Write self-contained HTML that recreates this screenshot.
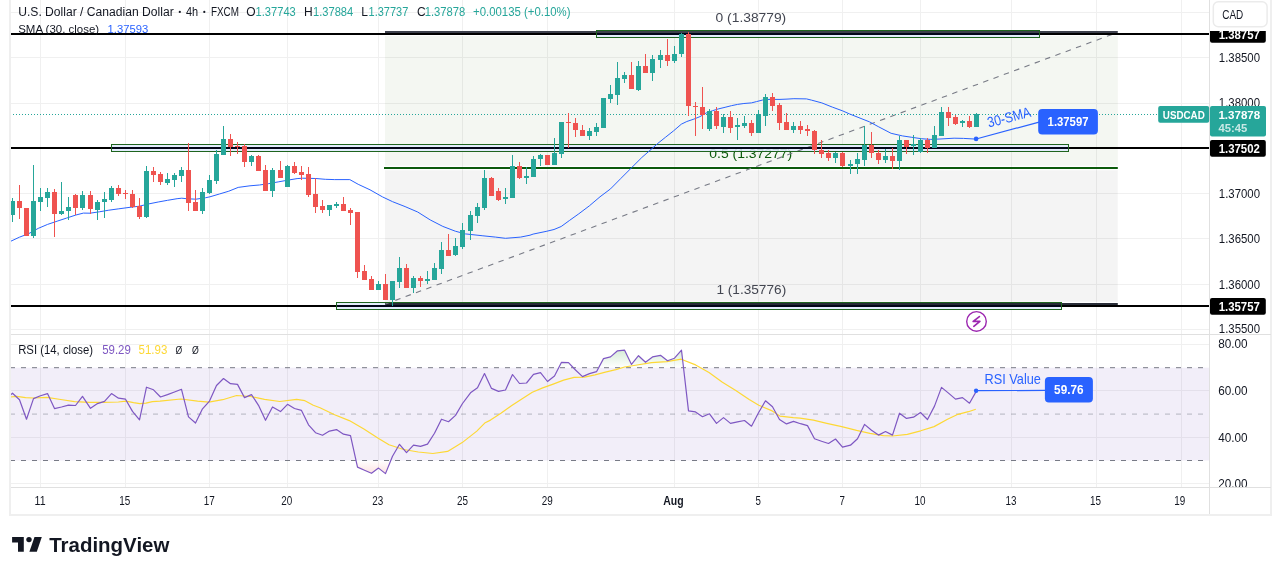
<!DOCTYPE html>
<html><head><meta charset="utf-8"><title>USDCAD chart</title>
<style>
html,body{margin:0;padding:0;background:#fff;}
body{width:1275px;height:574px;overflow:hidden;}
svg{display:block;font-family:"Liberation Sans", sans-serif;will-change:transform;}
</style></head><body>
<svg width="1275" height="574" viewBox="0 0 1275 574">
<rect x="0" y="0" width="1275" height="574" fill="#ffffff"/>
<rect x="40.0" y="0" width="1" height="487" fill="#f0f0f0"/>
<rect x="125.0" y="0" width="1" height="487" fill="#f0f0f0"/>
<rect x="209.0" y="0" width="1" height="487" fill="#f0f0f0"/>
<rect x="287.0" y="0" width="1" height="487" fill="#f0f0f0"/>
<rect x="378.0" y="0" width="1" height="487" fill="#f0f0f0"/>
<rect x="462.0" y="0" width="1" height="487" fill="#f0f0f0"/>
<rect x="547.0" y="0" width="1" height="487" fill="#f0f0f0"/>
<rect x="674.0" y="0" width="1" height="487" fill="#f0f0f0"/>
<rect x="758.0" y="0" width="1" height="487" fill="#f0f0f0"/>
<rect x="842.0" y="0" width="1" height="487" fill="#f0f0f0"/>
<rect x="920.0" y="0" width="1" height="487" fill="#f0f0f0"/>
<rect x="1011.0" y="0" width="1" height="487" fill="#f0f0f0"/>
<rect x="1096.0" y="0" width="1" height="487" fill="#f0f0f0"/>
<rect x="1181.0" y="0" width="1" height="487" fill="#f0f0f0"/>
<rect x="10" y="12" width="1199" height="1" fill="#f0f0f0"/>
<rect x="10" y="57" width="1199" height="1" fill="#f0f0f0"/>
<rect x="10" y="103" width="1199" height="1" fill="#f0f0f0"/>
<rect x="10" y="148" width="1199" height="1" fill="#f0f0f0"/>
<rect x="10" y="193" width="1199" height="1" fill="#f0f0f0"/>
<rect x="10" y="238" width="1199" height="1" fill="#f0f0f0"/>
<rect x="10" y="284" width="1199" height="1" fill="#f0f0f0"/>
<rect x="10" y="329" width="1199" height="1" fill="#f0f0f0"/>
<rect x="10" y="344.0" width="1199" height="1" fill="#f0f0f0"/>
<rect x="10" y="390.0" width="1199" height="1" fill="#f0f0f0"/>
<rect x="10" y="437.0" width="1199" height="1" fill="#f0f0f0"/>
<rect x="10" y="483.0" width="1199" height="1" fill="#f0f0f0"/>
<rect x="385" y="33" width="732.8" height="132.7" fill="#3c7828" fill-opacity="0.058"/>
<rect x="385" y="170.2" width="732.8" height="131.60000000000002" fill="#000000" fill-opacity="0.042"/>
<rect x="385" y="35" width="732.8" height="1" fill="#ffffff"/>
<rect x="385" y="31" width="732.8" height="2" fill="#3d404c"/>
<rect x="384" y="167" width="733.8" height="2" fill="#0b5a0b"/>
<rect x="385" y="303" width="732.8" height="2" fill="#2a2e39"/>
<text x="715.6" y="22.1" font-size="13.3" fill="#434651" font-weight="normal" text-anchor="start" textLength="70.6" lengthAdjust="spacingAndGlyphs" >0 (1.38779)</text>
<text x="709.3" y="157.7" font-size="13.3" fill="#0b5a0b" font-weight="normal" text-anchor="start" textLength="82.8" lengthAdjust="spacingAndGlyphs" >0.5 (1.37277)</text>
<text x="716.4" y="294" font-size="13.3" fill="#434651" font-weight="normal" text-anchor="start" textLength="69.8" lengthAdjust="spacingAndGlyphs" >1 (1.35776)</text>
<rect x="596" y="31" width="444" height="6" fill="#dfeafc" fill-opacity="0.88"/>
<rect x="111" y="145" width="958" height="6" fill="#dfeafc" fill-opacity="0.88"/>
<rect x="336" y="303" width="726" height="6" fill="#dfeafc" fill-opacity="0.88"/>
<rect x="596" y="31" width="444" height="2" fill="#3d404c"/>
<rect x="385" y="303" width="677" height="2" fill="#262a36"/>
<line x1="385" y1="304.2" x2="1117.8" y2="32.3" stroke="#787b86" stroke-width="1.1" stroke-dasharray="5.5,5.5"/>
<rect x="10" y="33" width="1199" height="2" fill="#000000"/>
<rect x="10" y="147" width="1199" height="2" fill="#000000"/>
<rect x="10" y="305" width="1199" height="2" fill="#000000"/>
<rect x="597" y="33" width="442" height="2" fill="#020619"/>
<rect x="112" y="147" width="956" height="2" fill="#020619"/>
<rect x="337" y="305" width="724" height="2" fill="#020619"/>
<rect x="596.5" y="30.5" width="443" height="7" fill="none" stroke="#1e641e" stroke-width="1"/>
<rect x="111.5" y="144.5" width="957" height="7" fill="none" stroke="#1e641e" stroke-width="1"/>
<rect x="336.5" y="302.5" width="725" height="7" fill="none" stroke="#1e641e" stroke-width="1"/>
<line x1="10" y1="114.5" x2="1158" y2="114.5" stroke="#26a69a" stroke-width="1" stroke-dasharray="1,2"/>
<polyline points="10.0,241.6 19.4,237.2 28.8,233.6 38.2,228.4 47.6,224.4 57.1,221.2 66.5,218.1 75.9,215.0 83.4,213.1 90.0,213.2 99.4,211.8 108.8,210.2 118.2,208.9 130.0,207.3 139.4,206.2 148.8,203.9 158.2,202.0 167.6,200.3 177.1,198.7 181.8,198.2 186.5,198.7 195.9,199.2 205.3,197.8 210.0,196.8 219.4,194.0 228.8,191.2 238.2,187.4 250.0,185.8 259.4,185.0 268.8,183.6 278.2,181.9 287.6,180.2 297.1,178.6 302.7,178.2 315.9,178.5 325.3,179.3 334.7,179.6 349.8,179.6 358.2,184.3 370.0,189.8 382.5,196.9 392.6,201.7 405.1,206.6 417.7,212.0 430.2,219.9 442.8,226.4 455.3,231.2 465.4,233.9 482.9,235.8 495.5,237.1 505.5,238.3 520.6,237.1 530.0,235.2 533.1,234.1 546.1,231.4 554.0,229.5 561.2,226.5 569.7,220.3 578.8,213.8 589.3,205.9 600.0,196.8 610.5,188.9 620.9,178.4 631.4,167.9 641.8,157.5 651.2,149.3 657.8,143.4 665.7,137.1 673.5,130.9 681.3,124.2 686.8,121.5 693.9,119.1 700.0,116.6 706.3,112.9 712.5,110.7 718.8,108.8 725.1,107.3 731.4,105.7 737.6,104.4 743.9,103.5 751.4,102.9 756.5,101.6 762.7,100.0 769.0,99.4 780.0,99.4 787.0,99.1 793.9,98.7 806.5,98.9 811.4,100.1 821.8,102.9 832.3,107.1 842.7,110.9 849.7,114.0 860.0,118.1 869.4,121.8 878.8,126.9 891.1,133.3 902.4,135.9 911.8,137.3 921.2,138.7 930.6,139.4 940.0,139.0 954.1,138.2 963.5,138.4 976.1,139.1" fill="none" stroke="#2962ff" stroke-width="1" stroke-linejoin="round"/>
<rect x="12" y="198" width="1" height="24" fill="#26a69a"/>
<rect x="10" y="201" width="5" height="14" fill="#26a69a"/>
<rect x="19" y="185" width="1" height="34" fill="#ef5350"/>
<rect x="17" y="201" width="5" height="7" fill="#ef5350"/>
<rect x="26" y="208" width="1" height="28" fill="#ef5350"/>
<rect x="24" y="208" width="5" height="28" fill="#ef5350"/>
<rect x="33" y="165" width="1" height="73" fill="#26a69a"/>
<rect x="31" y="201" width="5" height="35" fill="#26a69a"/>
<rect x="40" y="188" width="1" height="23" fill="#26a69a"/>
<rect x="38" y="197" width="5" height="5" fill="#26a69a"/>
<rect x="47" y="188" width="1" height="19" fill="#26a69a"/>
<rect x="45" y="192" width="5" height="6" fill="#26a69a"/>
<rect x="54" y="189" width="1" height="48" fill="#ef5350"/>
<rect x="52" y="192" width="5" height="22" fill="#ef5350"/>
<rect x="61" y="182" width="1" height="33" fill="#26a69a"/>
<rect x="59" y="211" width="5" height="3" fill="#26a69a"/>
<rect x="68" y="197" width="1" height="23" fill="#26a69a"/>
<rect x="66" y="207" width="5" height="4" fill="#26a69a"/>
<rect x="75" y="194" width="1" height="21" fill="#ef5350"/>
<rect x="73" y="195" width="5" height="13" fill="#ef5350"/>
<rect x="82" y="191" width="1" height="19" fill="#26a69a"/>
<rect x="80" y="195" width="5" height="13" fill="#26a69a"/>
<rect x="90" y="191" width="1" height="23" fill="#ef5350"/>
<rect x="88" y="195" width="5" height="14" fill="#ef5350"/>
<rect x="97" y="200" width="1" height="20" fill="#26a69a"/>
<rect x="95" y="202" width="5" height="8" fill="#26a69a"/>
<rect x="104" y="192" width="1" height="26" fill="#26a69a"/>
<rect x="102" y="199" width="5" height="3" fill="#26a69a"/>
<rect x="111" y="186" width="1" height="16" fill="#26a69a"/>
<rect x="109" y="188" width="5" height="12" fill="#26a69a"/>
<rect x="118" y="185" width="1" height="11" fill="#ef5350"/>
<rect x="116" y="188" width="5" height="6" fill="#ef5350"/>
<rect x="125" y="190" width="1" height="9" fill="#ef5350"/>
<rect x="123" y="193" width="5" height="1" fill="#ef5350"/>
<rect x="132" y="190" width="1" height="18" fill="#ef5350"/>
<rect x="130" y="194" width="5" height="13" fill="#ef5350"/>
<rect x="139" y="198" width="1" height="21" fill="#ef5350"/>
<rect x="137" y="206" width="5" height="11" fill="#ef5350"/>
<rect x="146" y="166" width="1" height="52" fill="#26a69a"/>
<rect x="144" y="171" width="5" height="46" fill="#26a69a"/>
<rect x="153" y="167" width="1" height="15" fill="#ef5350"/>
<rect x="151" y="171" width="5" height="4" fill="#ef5350"/>
<rect x="160" y="172" width="1" height="13" fill="#ef5350"/>
<rect x="158" y="174" width="5" height="8" fill="#ef5350"/>
<rect x="167" y="173" width="1" height="12" fill="#26a69a"/>
<rect x="165" y="179" width="5" height="4" fill="#26a69a"/>
<rect x="174" y="173" width="1" height="14" fill="#26a69a"/>
<rect x="172" y="175" width="5" height="5" fill="#26a69a"/>
<rect x="181" y="167" width="1" height="15" fill="#26a69a"/>
<rect x="179" y="170" width="5" height="6" fill="#26a69a"/>
<rect x="188" y="143" width="1" height="68" fill="#ef5350"/>
<rect x="186" y="170" width="5" height="33" fill="#ef5350"/>
<rect x="195" y="190" width="1" height="21" fill="#ef5350"/>
<rect x="193" y="202" width="5" height="9" fill="#ef5350"/>
<rect x="202" y="188" width="1" height="26" fill="#26a69a"/>
<rect x="200" y="192" width="5" height="19" fill="#26a69a"/>
<rect x="209" y="175" width="1" height="19" fill="#26a69a"/>
<rect x="207" y="180" width="5" height="13" fill="#26a69a"/>
<rect x="216" y="150" width="1" height="34" fill="#26a69a"/>
<rect x="214" y="154" width="5" height="27" fill="#26a69a"/>
<rect x="223" y="126" width="1" height="29" fill="#26a69a"/>
<rect x="221" y="139" width="5" height="16" fill="#26a69a"/>
<rect x="230" y="134" width="1" height="22" fill="#ef5350"/>
<rect x="228" y="139" width="5" height="8" fill="#ef5350"/>
<rect x="237" y="142" width="1" height="12" fill="#ef5350"/>
<rect x="235" y="146" width="5" height="1" fill="#ef5350"/>
<rect x="244" y="144" width="1" height="23" fill="#ef5350"/>
<rect x="242" y="146" width="5" height="16" fill="#ef5350"/>
<rect x="251" y="155" width="1" height="11" fill="#26a69a"/>
<rect x="249" y="156" width="5" height="6" fill="#26a69a"/>
<rect x="258" y="155" width="1" height="16" fill="#ef5350"/>
<rect x="256" y="156" width="5" height="15" fill="#ef5350"/>
<rect x="265" y="165" width="1" height="26" fill="#ef5350"/>
<rect x="263" y="170" width="5" height="21" fill="#ef5350"/>
<rect x="272" y="168" width="1" height="29" fill="#26a69a"/>
<rect x="270" y="170" width="5" height="21" fill="#26a69a"/>
<rect x="280" y="161" width="1" height="17" fill="#ef5350"/>
<rect x="278" y="170" width="5" height="8" fill="#ef5350"/>
<rect x="287" y="165" width="1" height="22" fill="#26a69a"/>
<rect x="285" y="166" width="5" height="21" fill="#26a69a"/>
<rect x="294" y="162" width="1" height="12" fill="#ef5350"/>
<rect x="292" y="166" width="5" height="7" fill="#ef5350"/>
<rect x="301" y="166" width="1" height="14" fill="#ef5350"/>
<rect x="299" y="172" width="5" height="3" fill="#ef5350"/>
<rect x="308" y="167" width="1" height="30" fill="#ef5350"/>
<rect x="306" y="174" width="5" height="21" fill="#ef5350"/>
<rect x="315" y="178" width="1" height="35" fill="#ef5350"/>
<rect x="313" y="194" width="5" height="13" fill="#ef5350"/>
<rect x="322" y="200" width="1" height="13" fill="#ef5350"/>
<rect x="320" y="206" width="5" height="4" fill="#ef5350"/>
<rect x="329" y="205" width="1" height="11" fill="#26a69a"/>
<rect x="327" y="205" width="5" height="5" fill="#26a69a"/>
<rect x="336" y="202" width="1" height="6" fill="#26a69a"/>
<rect x="334" y="204" width="5" height="2" fill="#26a69a"/>
<rect x="343" y="197" width="1" height="14" fill="#ef5350"/>
<rect x="341" y="204" width="5" height="7" fill="#ef5350"/>
<rect x="350" y="208" width="1" height="17" fill="#ef5350"/>
<rect x="348" y="210" width="5" height="3" fill="#ef5350"/>
<rect x="357" y="212" width="1" height="66" fill="#ef5350"/>
<rect x="355" y="212" width="5" height="60" fill="#ef5350"/>
<rect x="364" y="265" width="1" height="15" fill="#ef5350"/>
<rect x="362" y="271" width="5" height="9" fill="#ef5350"/>
<rect x="371" y="276" width="1" height="14" fill="#ef5350"/>
<rect x="369" y="279" width="5" height="11" fill="#ef5350"/>
<rect x="378" y="281" width="1" height="9" fill="#26a69a"/>
<rect x="376" y="284" width="5" height="6" fill="#26a69a"/>
<rect x="385" y="274" width="1" height="26" fill="#ef5350"/>
<rect x="383" y="284" width="5" height="16" fill="#ef5350"/>
<rect x="392" y="281" width="1" height="25" fill="#26a69a"/>
<rect x="390" y="281" width="5" height="19" fill="#26a69a"/>
<rect x="399" y="257" width="1" height="31" fill="#26a69a"/>
<rect x="397" y="268" width="5" height="14" fill="#26a69a"/>
<rect x="406" y="264" width="1" height="24" fill="#ef5350"/>
<rect x="404" y="268" width="5" height="20" fill="#ef5350"/>
<rect x="413" y="276" width="1" height="17" fill="#26a69a"/>
<rect x="411" y="278" width="5" height="10" fill="#26a69a"/>
<rect x="420" y="276" width="1" height="11" fill="#ef5350"/>
<rect x="418" y="278" width="5" height="3" fill="#ef5350"/>
<rect x="427" y="271" width="1" height="13" fill="#26a69a"/>
<rect x="425" y="279" width="5" height="2" fill="#26a69a"/>
<rect x="434" y="263" width="1" height="17" fill="#26a69a"/>
<rect x="432" y="268" width="5" height="12" fill="#26a69a"/>
<rect x="441" y="242" width="1" height="32" fill="#26a69a"/>
<rect x="439" y="250" width="5" height="19" fill="#26a69a"/>
<rect x="448" y="234" width="1" height="22" fill="#ef5350"/>
<rect x="446" y="250" width="5" height="6" fill="#ef5350"/>
<rect x="455" y="238" width="1" height="18" fill="#26a69a"/>
<rect x="453" y="246" width="5" height="9" fill="#26a69a"/>
<rect x="462" y="223" width="1" height="26" fill="#26a69a"/>
<rect x="460" y="230" width="5" height="17" fill="#26a69a"/>
<rect x="470" y="211" width="1" height="29" fill="#26a69a"/>
<rect x="468" y="215" width="5" height="16" fill="#26a69a"/>
<rect x="477" y="203" width="1" height="20" fill="#26a69a"/>
<rect x="475" y="207" width="5" height="9" fill="#26a69a"/>
<rect x="484" y="170" width="1" height="40" fill="#26a69a"/>
<rect x="482" y="178" width="5" height="30" fill="#26a69a"/>
<rect x="491" y="177" width="1" height="19" fill="#ef5350"/>
<rect x="489" y="178" width="5" height="18" fill="#ef5350"/>
<rect x="498" y="188" width="1" height="13" fill="#ef5350"/>
<rect x="496" y="191" width="5" height="9" fill="#ef5350"/>
<rect x="505" y="188" width="1" height="16" fill="#26a69a"/>
<rect x="503" y="197" width="5" height="2" fill="#26a69a"/>
<rect x="512" y="155" width="1" height="43" fill="#26a69a"/>
<rect x="510" y="166" width="5" height="32" fill="#26a69a"/>
<rect x="519" y="162" width="1" height="17" fill="#ef5350"/>
<rect x="517" y="166" width="5" height="12" fill="#ef5350"/>
<rect x="526" y="167" width="1" height="17" fill="#26a69a"/>
<rect x="524" y="176" width="5" height="2" fill="#26a69a"/>
<rect x="533" y="156" width="1" height="21" fill="#26a69a"/>
<rect x="531" y="159" width="5" height="18" fill="#26a69a"/>
<rect x="540" y="154" width="1" height="12" fill="#26a69a"/>
<rect x="538" y="155" width="5" height="4" fill="#26a69a"/>
<rect x="547" y="155" width="1" height="10" fill="#ef5350"/>
<rect x="545" y="155" width="5" height="10" fill="#ef5350"/>
<rect x="554" y="138" width="1" height="27" fill="#26a69a"/>
<rect x="552" y="153" width="5" height="12" fill="#26a69a"/>
<rect x="561" y="122" width="1" height="36" fill="#26a69a"/>
<rect x="559" y="122" width="5" height="32" fill="#26a69a"/>
<rect x="568" y="113" width="1" height="35" fill="#ef5350"/>
<rect x="566" y="122" width="5" height="1" fill="#ef5350"/>
<rect x="575" y="118" width="1" height="19" fill="#ef5350"/>
<rect x="573" y="123" width="5" height="7" fill="#ef5350"/>
<rect x="582" y="125" width="1" height="11" fill="#ef5350"/>
<rect x="580" y="130" width="5" height="6" fill="#ef5350"/>
<rect x="589" y="128" width="1" height="12" fill="#26a69a"/>
<rect x="587" y="131" width="5" height="5" fill="#26a69a"/>
<rect x="596" y="123" width="1" height="13" fill="#26a69a"/>
<rect x="594" y="127" width="5" height="5" fill="#26a69a"/>
<rect x="603" y="98" width="1" height="30" fill="#26a69a"/>
<rect x="601" y="98" width="5" height="30" fill="#26a69a"/>
<rect x="610" y="85" width="1" height="18" fill="#26a69a"/>
<rect x="608" y="94" width="5" height="5" fill="#26a69a"/>
<rect x="617" y="62" width="1" height="43" fill="#26a69a"/>
<rect x="615" y="78" width="5" height="17" fill="#26a69a"/>
<rect x="624" y="72" width="1" height="11" fill="#26a69a"/>
<rect x="622" y="75" width="5" height="4" fill="#26a69a"/>
<rect x="631" y="62" width="1" height="27" fill="#ef5350"/>
<rect x="629" y="75" width="5" height="14" fill="#ef5350"/>
<rect x="638" y="61" width="1" height="30" fill="#26a69a"/>
<rect x="636" y="66" width="5" height="24" fill="#26a69a"/>
<rect x="645" y="54" width="1" height="19" fill="#ef5350"/>
<rect x="643" y="66" width="5" height="7" fill="#ef5350"/>
<rect x="652" y="55" width="1" height="26" fill="#26a69a"/>
<rect x="650" y="59" width="5" height="14" fill="#26a69a"/>
<rect x="660" y="50" width="1" height="18" fill="#26a69a"/>
<rect x="658" y="55" width="5" height="5" fill="#26a69a"/>
<rect x="667" y="39" width="1" height="27" fill="#ef5350"/>
<rect x="665" y="55" width="5" height="6" fill="#ef5350"/>
<rect x="674" y="46" width="1" height="17" fill="#26a69a"/>
<rect x="672" y="54" width="5" height="7" fill="#26a69a"/>
<rect x="681" y="33" width="1" height="24" fill="#26a69a"/>
<rect x="679" y="34" width="5" height="20" fill="#26a69a"/>
<rect x="688" y="32" width="1" height="84" fill="#ef5350"/>
<rect x="686" y="34" width="5" height="72" fill="#ef5350"/>
<rect x="695" y="102" width="1" height="34" fill="#ef5350"/>
<rect x="693" y="106" width="5" height="1" fill="#ef5350"/>
<rect x="702" y="87" width="1" height="42" fill="#ef5350"/>
<rect x="700" y="107" width="5" height="8" fill="#ef5350"/>
<rect x="709" y="109" width="1" height="22" fill="#26a69a"/>
<rect x="707" y="111" width="5" height="18" fill="#26a69a"/>
<rect x="716" y="107" width="1" height="22" fill="#ef5350"/>
<rect x="714" y="111" width="5" height="15" fill="#ef5350"/>
<rect x="723" y="114" width="1" height="19" fill="#26a69a"/>
<rect x="721" y="117" width="5" height="10" fill="#26a69a"/>
<rect x="730" y="111" width="1" height="22" fill="#ef5350"/>
<rect x="728" y="117" width="5" height="11" fill="#ef5350"/>
<rect x="737" y="118" width="1" height="22" fill="#26a69a"/>
<rect x="735" y="125" width="5" height="2" fill="#26a69a"/>
<rect x="744" y="116" width="1" height="12" fill="#26a69a"/>
<rect x="742" y="123" width="5" height="3" fill="#26a69a"/>
<rect x="751" y="120" width="1" height="16" fill="#ef5350"/>
<rect x="749" y="123" width="5" height="10" fill="#ef5350"/>
<rect x="758" y="110" width="1" height="23" fill="#26a69a"/>
<rect x="756" y="114" width="5" height="19" fill="#26a69a"/>
<rect x="765" y="94" width="1" height="32" fill="#26a69a"/>
<rect x="763" y="97" width="5" height="19" fill="#26a69a"/>
<rect x="772" y="93" width="1" height="18" fill="#ef5350"/>
<rect x="770" y="97" width="5" height="9" fill="#ef5350"/>
<rect x="779" y="103" width="1" height="27" fill="#ef5350"/>
<rect x="777" y="105" width="5" height="18" fill="#ef5350"/>
<rect x="786" y="113" width="1" height="17" fill="#ef5350"/>
<rect x="784" y="122" width="5" height="8" fill="#ef5350"/>
<rect x="793" y="122" width="1" height="11" fill="#26a69a"/>
<rect x="791" y="126" width="5" height="4" fill="#26a69a"/>
<rect x="800" y="121" width="1" height="13" fill="#ef5350"/>
<rect x="798" y="126" width="5" height="4" fill="#ef5350"/>
<rect x="807" y="125" width="1" height="11" fill="#ef5350"/>
<rect x="805" y="129" width="5" height="2" fill="#ef5350"/>
<rect x="814" y="130" width="1" height="24" fill="#ef5350"/>
<rect x="812" y="131" width="5" height="19" fill="#ef5350"/>
<rect x="821" y="140" width="1" height="18" fill="#ef5350"/>
<rect x="819" y="150" width="5" height="4" fill="#ef5350"/>
<rect x="828" y="150" width="1" height="11" fill="#ef5350"/>
<rect x="826" y="153" width="5" height="5" fill="#ef5350"/>
<rect x="835" y="152" width="1" height="11" fill="#26a69a"/>
<rect x="833" y="153" width="5" height="5" fill="#26a69a"/>
<rect x="842" y="152" width="1" height="15" fill="#ef5350"/>
<rect x="840" y="153" width="5" height="13" fill="#ef5350"/>
<rect x="850" y="160" width="1" height="14" fill="#26a69a"/>
<rect x="848" y="164" width="5" height="2" fill="#26a69a"/>
<rect x="857" y="153" width="1" height="21" fill="#26a69a"/>
<rect x="855" y="159" width="5" height="5" fill="#26a69a"/>
<rect x="864" y="126" width="1" height="40" fill="#26a69a"/>
<rect x="862" y="145" width="5" height="15" fill="#26a69a"/>
<rect x="871" y="132" width="1" height="26" fill="#ef5350"/>
<rect x="869" y="145" width="5" height="8" fill="#ef5350"/>
<rect x="878" y="150" width="1" height="14" fill="#ef5350"/>
<rect x="876" y="153" width="5" height="7" fill="#ef5350"/>
<rect x="885" y="149" width="1" height="14" fill="#26a69a"/>
<rect x="883" y="156" width="5" height="4" fill="#26a69a"/>
<rect x="892" y="148" width="1" height="21" fill="#ef5350"/>
<rect x="890" y="156" width="5" height="5" fill="#ef5350"/>
<rect x="899" y="136" width="1" height="34" fill="#26a69a"/>
<rect x="897" y="140" width="5" height="21" fill="#26a69a"/>
<rect x="906" y="140" width="1" height="14" fill="#ef5350"/>
<rect x="904" y="140" width="5" height="7" fill="#ef5350"/>
<rect x="913" y="135" width="1" height="20" fill="#26a69a"/>
<rect x="911" y="144" width="5" height="2" fill="#26a69a"/>
<rect x="920" y="138" width="1" height="15" fill="#26a69a"/>
<rect x="918" y="140" width="5" height="12" fill="#26a69a"/>
<rect x="927" y="138" width="1" height="15" fill="#ef5350"/>
<rect x="925" y="140" width="5" height="8" fill="#ef5350"/>
<rect x="934" y="126" width="1" height="22" fill="#26a69a"/>
<rect x="932" y="135" width="5" height="13" fill="#26a69a"/>
<rect x="941" y="107" width="1" height="29" fill="#26a69a"/>
<rect x="939" y="112" width="5" height="24" fill="#26a69a"/>
<rect x="948" y="107" width="1" height="19" fill="#ef5350"/>
<rect x="946" y="112" width="5" height="6" fill="#ef5350"/>
<rect x="955" y="115" width="1" height="10" fill="#ef5350"/>
<rect x="953" y="117" width="5" height="7" fill="#ef5350"/>
<rect x="962" y="120" width="1" height="7" fill="#26a69a"/>
<rect x="960" y="121" width="5" height="2" fill="#26a69a"/>
<rect x="969" y="116" width="1" height="12" fill="#ef5350"/>
<rect x="967" y="121" width="5" height="6" fill="#ef5350"/>
<rect x="976" y="113" width="1" height="14" fill="#26a69a"/>
<rect x="974" y="114" width="5" height="13" fill="#26a69a"/>
<line x1="976.1" y1="139" x2="1040" y2="121.8" stroke="#2962ff" stroke-width="1.2"/>
<circle cx="976.1" cy="138.9" r="2.3" fill="#2962ff"/>
<rect x="1038.2" y="109.1" width="59.7" height="25.3" rx="4" fill="#2962ff"/>
<text x="1047.6" y="126" font-size="12" fill="#ffffff" font-weight="bold" text-anchor="start" textLength="40.9" lengthAdjust="spacingAndGlyphs" >1.37597</text>
<text x="0" y="0" font-size="14.5" fill="#2962ff" textLength="44.4" lengthAdjust="spacingAndGlyphs" transform="translate(988.8,127.6) rotate(-14.5)">30-SMA</text>
<text x="18.2" y="15.8" font-size="12" fill="#131722" font-weight="normal" text-anchor="start" textLength="155.5" lengthAdjust="spacingAndGlyphs" >U.S. Dollar / Canadian Dollar</text>
<circle cx="179.8" cy="11.9" r="1.1" fill="#131722"/>
<text x="185.9" y="15.8" font-size="12" fill="#131722" font-weight="normal" text-anchor="start" textLength="12.2" lengthAdjust="spacingAndGlyphs" >4h</text>
<circle cx="204.3" cy="11.9" r="1.1" fill="#131722"/>
<text x="210.9" y="15.8" font-size="12" fill="#131722" font-weight="normal" text-anchor="start" textLength="28" lengthAdjust="spacingAndGlyphs" >FXCM</text>
<text x="246.3" y="15.8" font-size="12" fill="#131722" font-weight="normal" text-anchor="start" >O</text>
<text x="255.6" y="15.8" font-size="12" fill="#26a69a" font-weight="normal" text-anchor="start" textLength="40.2" lengthAdjust="spacingAndGlyphs" >1.37743</text>
<text x="304" y="15.8" font-size="12" fill="#131722" font-weight="normal" text-anchor="start" >H</text>
<text x="313" y="15.8" font-size="12" fill="#26a69a" font-weight="normal" text-anchor="start" textLength="40.2" lengthAdjust="spacingAndGlyphs" >1.37884</text>
<text x="361.2" y="15.8" font-size="12" fill="#131722" font-weight="normal" text-anchor="start" >L</text>
<text x="368.6" y="15.8" font-size="12" fill="#26a69a" font-weight="normal" text-anchor="start" textLength="39.7" lengthAdjust="spacingAndGlyphs" >1.37737</text>
<text x="417" y="15.8" font-size="12" fill="#131722" font-weight="normal" text-anchor="start" >C</text>
<text x="424.7" y="15.8" font-size="12" fill="#26a69a" font-weight="normal" text-anchor="start" textLength="40.6" lengthAdjust="spacingAndGlyphs" >1.37878</text>
<text x="473" y="15.8" font-size="12" fill="#26a69a" font-weight="normal" text-anchor="start" textLength="97.5" lengthAdjust="spacingAndGlyphs" >+0.00135 (+0.10%)</text>
<text x="18.2" y="32.8" font-size="11.7" fill="#131722" font-weight="normal" text-anchor="start" textLength="80.9" lengthAdjust="spacingAndGlyphs" >SMA (30, close)</text>
<text x="107.6" y="32.8" font-size="11.7" fill="#2962ff" font-weight="normal" text-anchor="start" textLength="40.7" lengthAdjust="spacingAndGlyphs" >1.37593</text>
<rect x="1209" y="0" width="62" height="515" fill="#ffffff"/>
<rect x="1209" y="0" width="1" height="515" fill="#e0e0e0"/>
<rect x="1270" y="0" width="2" height="516" fill="#efefef"/>
<text x="1218.8" y="62.044999999999035" font-size="13" fill="#131722" font-weight="normal" text-anchor="start" textLength="41.2" lengthAdjust="spacingAndGlyphs" >1.38500</text>
<text x="1218.8" y="107.39000000000007" font-size="13" fill="#131722" font-weight="normal" text-anchor="start" textLength="41.2" lengthAdjust="spacingAndGlyphs" >1.38000</text>
<text x="1218.8" y="198.07999999999814" font-size="13" fill="#131722" font-weight="normal" text-anchor="start" textLength="41.2" lengthAdjust="spacingAndGlyphs" >1.37000</text>
<text x="1218.8" y="243.4249999999992" font-size="13" fill="#131722" font-weight="normal" text-anchor="start" textLength="41.2" lengthAdjust="spacingAndGlyphs" >1.36500</text>
<text x="1218.8" y="288.7699999999983" font-size="13" fill="#131722" font-weight="normal" text-anchor="start" textLength="41.2" lengthAdjust="spacingAndGlyphs" >1.36000</text>
<text x="1218.8" y="332.6" font-size="13" fill="#131722" font-weight="normal" text-anchor="start" textLength="41.2" lengthAdjust="spacingAndGlyphs" >1.35500</text>
<rect x="1213.3" y="1.8" width="53.8" height="25" rx="5" fill="#ffffff" stroke="#ebebeb" stroke-width="1.5"/>
<text x="1222.3" y="18.9" font-size="13" fill="#131722" font-weight="normal" text-anchor="start" textLength="21" lengthAdjust="spacingAndGlyphs" >CAD</text>
<clipPath id="paxclip"><rect x="1209" y="31" width="66" height="500"/></clipPath>
<g clip-path="url(#paxclip)">
<rect x="1210" y="26.0" width="55.8" height="16.7" rx="2" fill="#000000"/>
<text x="1218.7" y="38.8" font-size="12.2" fill="#ffffff" font-weight="bold" text-anchor="start" textLength="41.2" lengthAdjust="spacingAndGlyphs" >1.38757</text>
<rect x="1210" y="140.0" width="55.8" height="16.7" rx="2" fill="#000000"/>
<text x="1218.7" y="152.8" font-size="12.2" fill="#ffffff" font-weight="bold" text-anchor="start" textLength="41.2" lengthAdjust="spacingAndGlyphs" >1.37502</text>
<rect x="1210" y="298.0" width="55.8" height="16.7" rx="2" fill="#000000"/>
<text x="1218.7" y="310.8" font-size="12.2" fill="#ffffff" font-weight="bold" text-anchor="start" textLength="41.2" lengthAdjust="spacingAndGlyphs" >1.35757</text>
</g>
<rect x="1158.2" y="106.1" width="51" height="16.6" rx="2" fill="#26a69a"/>
<text x="1162.8" y="118.6" font-size="11.5" fill="#ffffff" font-weight="bold" text-anchor="start" textLength="42" lengthAdjust="spacingAndGlyphs" >USDCAD</text>
<rect x="1210" y="105.9" width="56" height="30.7" rx="2" fill="#26a69a"/>
<text x="1218.4" y="118.6" font-size="11.8" fill="#ffffff" font-weight="bold" text-anchor="start" textLength="41.8" lengthAdjust="spacingAndGlyphs" >1.37878</text>
<text x="1218.4" y="132.4" font-size="11.8" fill="#ffffff" fill-opacity="0.75" font-weight="bold" textLength="28.8" lengthAdjust="spacingAndGlyphs">45:45</text>
<rect x="10" y="334" width="1261" height="1" fill="#e0e0e0"/>
<circle cx="976.5" cy="321.4" r="9.8" fill="#ffffff" stroke="#9c27b0" stroke-width="1.4"/>
<path d="M979.4,316.6 L973.2,321.4 L979.9,321.4 L973.8,326.3" fill="none" stroke="#9c27b0" stroke-width="1.7" stroke-linejoin="round" stroke-linecap="round"/>
<rect x="10" y="367.70000000000005" width="1199" height="92.79999999999995" fill="#7e57c2" fill-opacity="0.1"/>
<line x1="10" y1="367.70000000000005" x2="1209" y2="367.70000000000005" stroke="#787b86" stroke-width="1" stroke-dasharray="5,6"/>
<line x1="10" y1="414.1" x2="1209" y2="414.1" stroke="#787b86" stroke-opacity="0.5" stroke-width="1" stroke-dasharray="5,6"/>
<line x1="10" y1="460.5" x2="1209" y2="460.5" stroke="#787b86" stroke-width="1" stroke-dasharray="5,6"/>
<defs><linearGradient id="gob" gradientUnits="userSpaceOnUse" x1="0" y1="367.70000000000005" x2="0" y2="298.1"><stop offset="0" stop-color="#4caf50" stop-opacity="0"/><stop offset="1" stop-color="#4caf50" stop-opacity="0.9"/></linearGradient><linearGradient id="gos" gradientUnits="userSpaceOnUse" x1="0" y1="460.5" x2="0" y2="530.1"><stop offset="0" stop-color="#ef5350" stop-opacity="0"/><stop offset="1" stop-color="#ef5350" stop-opacity="0.9"/></linearGradient></defs>
<polygon points="558.8,367.7 561.5,362.3 568.5,362.6 573.3,367.7" fill="url(#gob)" fill-opacity="1"/>
<polygon points="598.6,367.7 603.5,358.6 610.5,356.9 617.5,350.8 624.5,350.1 631.5,364.4 638.5,355.7 645.5,362.3 652.5,356.9 660.5,355.3 667.5,360.7 674.5,358.2 681.5,350.2 683.5,367.7" fill="url(#gob)" fill-opacity="1"/>
<polygon points="356.0,460.5 357.5,467.1 364.5,470.2 371.5,473.3 378.5,468.1 385.5,473.6 390.8,460.5" fill="url(#gos)" fill-opacity="1"/>
<polyline points="10.3,397.0 16.8,396.3 25.6,397.6 33.1,398.0 46.9,397.3 60.7,399.5 74.5,401.7 89.6,402.4 103.4,402.4 118.4,402.0 126.0,401.1 133.5,402.6 139.8,403.6 146.0,403.2 152.3,401.7 160.0,401.1 180.9,399.0 197.6,401.1 208.8,402.1 222.7,399.7 236.6,395.5 250.6,396.5 264.5,399.3 279.8,401.5 296.6,399.4 304.9,400.7 313.3,405.3 320.0,407.7 334.6,414.8 349.3,420.6 363.9,429.0 378.6,438.4 389.0,444.7 403.6,449.5 418.3,452.0 432.9,453.5 447.6,451.4 462.2,442.6 476.8,431.1 485.2,422.7 490.5,420.1 500.9,413.2 511.4,405.8 521.8,398.9 532.3,392.3 542.7,387.9 553.2,384.1 563.6,380.1 574.1,377.4 584.5,377.1 595.0,374.8 605.4,372.2 615.9,369.6 624.6,367.0 637.0,365.0 651.5,362.6 666.8,361.7 681.2,359.2 695.6,364.9 709.0,372.6 722.4,382.2 735.8,390.4 749.2,399.4 758.8,405.2 772.2,410.9 779.9,416.1 793.3,417.6 800.0,418.1 813.4,420.2 826.8,423.3 841.7,426.6 856.6,430.3 870.0,433.3 883.4,435.6 892.4,436.0 907.3,434.4 920.7,430.8 934.1,426.6 947.5,419.2 958.0,414.3 968.4,411.7 975.8,409.2" fill="none" stroke="#fdd835" stroke-width="1.2" stroke-linejoin="round"/>
<polyline points="10.3,395.1 12.5,393.2 19.5,399.8 26.5,419.2 33.5,398.6 40.5,395.7 47.5,393.6 54.5,408.6 61.5,407.0 68.5,405.1 75.5,405.5 82.5,396.3 90.5,408.3 97.5,403.6 104.5,401.4 111.5,393.6 118.5,398.2 125.5,399.2 132.5,411.4 139.5,419.8 146.5,387.2 153.5,389.8 160.5,397.0 167.5,394.6 174.5,392.0 181.5,389.3 188.5,416.9 195.5,423.0 202.5,408.8 209.5,401.1 216.5,385.5 223.5,378.5 230.5,383.7 237.5,384.4 244.5,397.6 251.5,394.6 258.5,405.3 265.5,420.3 272.5,407.0 280.5,411.6 287.5,404.3 294.5,408.5 301.5,410.4 308.5,424.8 315.5,432.7 322.5,435.3 329.5,431.1 336.5,429.6 343.5,434.2 350.5,435.7 357.5,467.1 364.5,470.2 371.5,473.3 378.5,468.1 385.5,473.6 392.5,456.2 399.5,444.3 406.5,452.6 413.5,445.1 420.5,446.4 427.5,444.1 434.5,433.2 441.5,419.2 448.5,421.7 455.5,415.4 462.5,403.5 470.5,392.8 477.5,387.8 484.5,373.6 491.5,388.4 498.5,391.4 505.5,390.0 512.5,374.5 519.5,383.5 526.5,383.0 533.5,374.3 540.5,372.7 547.5,381.5 554.5,376.1 561.5,362.3 568.5,362.6 575.5,370.0 582.5,376.6 589.5,373.6 596.5,371.7 603.5,358.6 610.5,356.9 617.5,350.8 624.5,350.1 631.5,364.4 638.5,355.7 645.5,362.3 652.5,356.9 660.5,355.3 667.5,360.7 674.5,358.2 681.5,350.2 688.5,410.9 695.5,411.9 702.5,416.7 709.5,413.8 716.5,423.4 723.5,417.6 730.5,423.4 737.5,421.8 744.5,420.5 751.5,426.2 758.5,412.8 765.5,400.8 772.5,406.7 779.5,419.5 786.5,423.9 793.5,421.4 800.5,423.7 807.5,425.6 814.5,438.8 821.5,441.2 828.5,443.5 835.5,439.0 842.5,447.2 850.5,445.2 857.5,438.8 864.5,424.4 871.5,430.3 878.5,435.1 885.5,431.5 892.5,435.1 899.5,413.2 906.5,418.4 913.5,417.2 920.5,412.5 927.5,419.5 934.5,406.1 941.5,387.4 948.5,393.1 955.5,399.1 962.5,397.6 969.5,403.2 976.5,390.9" fill="none" stroke="#7e57c2" stroke-width="1.2" stroke-linejoin="round"/>
<line x1="976.1" y1="390.7" x2="1046" y2="390.4" stroke="#2962ff" stroke-width="1.2"/>
<circle cx="976.1" cy="390.8" r="2.2" fill="#2962ff"/>
<rect x="1044.9" y="377.1" width="48" height="25.5" rx="4" fill="#2962ff"/>
<text x="1054.1" y="394.2" font-size="12.3" fill="#ffffff" font-weight="bold" text-anchor="start" textLength="29.4" lengthAdjust="spacingAndGlyphs" >59.76</text>
<text x="984.5" y="383.9" font-size="14.8" fill="#2962ff" font-weight="normal" text-anchor="start" textLength="56.4" lengthAdjust="spacingAndGlyphs" >RSI Value</text>
<text x="18.2" y="354.1" font-size="12" fill="#131722" font-weight="normal" text-anchor="start" textLength="74.9" lengthAdjust="spacingAndGlyphs" >RSI (14, close)</text>
<text x="102.2" y="354.1" font-size="12" fill="#7e57c2" font-weight="normal" text-anchor="start" textLength="28.6" lengthAdjust="spacingAndGlyphs" >59.29</text>
<text x="138.6" y="354.1" font-size="12" fill="#fdd835" font-weight="normal" text-anchor="start" textLength="28.7" lengthAdjust="spacingAndGlyphs" >51.93</text>
<text x="175.6" y="353.8" font-size="11.5" fill="#131722" font-weight="normal" text-anchor="start" textLength="6.7" lengthAdjust="spacingAndGlyphs" >Ø</text>
<text x="191.9" y="353.8" font-size="11.5" fill="#131722" font-weight="normal" text-anchor="start" textLength="6.8" lengthAdjust="spacingAndGlyphs" >Ø</text>
<clipPath id="rsiax"><rect x="1209" y="335" width="66" height="152"/></clipPath>
<g clip-path="url(#rsiax)">
<text x="1218.2" y="348.0" font-size="13" fill="#131722" font-weight="normal" text-anchor="start" textLength="29.4" lengthAdjust="spacingAndGlyphs" >80.00</text>
<text x="1218.2" y="395.3" font-size="13" fill="#131722" font-weight="normal" text-anchor="start" textLength="29.4" lengthAdjust="spacingAndGlyphs" >60.00</text>
<text x="1218.2" y="441.7" font-size="13" fill="#131722" font-weight="normal" text-anchor="start" textLength="29.4" lengthAdjust="spacingAndGlyphs" >40.00</text>
<text x="1218.2" y="488.1" font-size="13" fill="#131722" font-weight="normal" text-anchor="start" textLength="29.4" lengthAdjust="spacingAndGlyphs" >20.00</text>
</g>
<rect x="10" y="487" width="1261" height="1" fill="#e0e0e0"/>
<rect x="9" y="514" width="1262" height="2" fill="#efefef"/>
<rect x="9" y="0" width="2" height="516" fill="#efefef"/>
<text x="34.6" y="505.1" font-size="13" fill="#131722" font-weight="normal" text-anchor="start" textLength="11.0" lengthAdjust="spacingAndGlyphs" >11</text>
<text x="119.3" y="505.1" font-size="13" fill="#131722" font-weight="normal" text-anchor="start" textLength="11.0" lengthAdjust="spacingAndGlyphs" >15</text>
<text x="203.7" y="505.1" font-size="13" fill="#131722" font-weight="normal" text-anchor="start" textLength="11.0" lengthAdjust="spacingAndGlyphs" >17</text>
<text x="281.3" y="505.1" font-size="13" fill="#131722" font-weight="normal" text-anchor="start" textLength="11.0" lengthAdjust="spacingAndGlyphs" >20</text>
<text x="372.3" y="505.1" font-size="13" fill="#131722" font-weight="normal" text-anchor="start" textLength="11.0" lengthAdjust="spacingAndGlyphs" >23</text>
<text x="456.9" y="505.1" font-size="13" fill="#131722" font-weight="normal" text-anchor="start" textLength="11.0" lengthAdjust="spacingAndGlyphs" >25</text>
<text x="541.7" y="505.1" font-size="13" fill="#131722" font-weight="normal" text-anchor="start" textLength="11.0" lengthAdjust="spacingAndGlyphs" >29</text>
<text x="663.3" y="505.1" font-size="13" fill="#131722" font-weight="bold" text-anchor="start" textLength="20.4" lengthAdjust="spacingAndGlyphs" >Aug</text>
<text x="755.5" y="505.1" font-size="13" fill="#131722" font-weight="normal" text-anchor="start" textLength="5.4" lengthAdjust="spacingAndGlyphs" >5</text>
<text x="839.5" y="505.1" font-size="13" fill="#131722" font-weight="normal" text-anchor="start" textLength="5.4" lengthAdjust="spacingAndGlyphs" >7</text>
<text x="914.4" y="505.1" font-size="13" fill="#131722" font-weight="normal" text-anchor="start" textLength="11.0" lengthAdjust="spacingAndGlyphs" >10</text>
<text x="1005.5" y="505.1" font-size="13" fill="#131722" font-weight="normal" text-anchor="start" textLength="11.0" lengthAdjust="spacingAndGlyphs" >13</text>
<text x="1090.1" y="505.1" font-size="13" fill="#131722" font-weight="normal" text-anchor="start" textLength="11.0" lengthAdjust="spacingAndGlyphs" >15</text>
<text x="1174.3" y="505.1" font-size="13" fill="#131722" font-weight="normal" text-anchor="start" textLength="11.0" lengthAdjust="spacingAndGlyphs" >19</text>
<g fill="#131722"><path d="M12.1,537.1 H23.8 V551.8 H18 V542.6 H12.1 Z"/><circle cx="29" cy="539.6" r="2.7"/><path d="M34.5,537.1 H41.8 L36.8,551.8 H29.4 Z"/></g>
<text x="49.2" y="551.8" font-size="20.2" fill="#131722" font-weight="bold" text-anchor="start" textLength="120.2" lengthAdjust="spacingAndGlyphs" >TradingView</text>
</svg>
</body></html>
